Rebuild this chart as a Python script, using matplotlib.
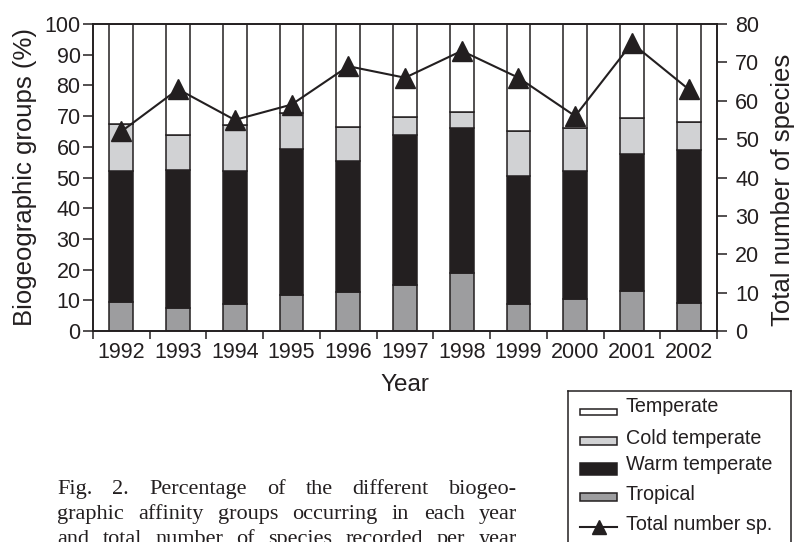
import matplotlib
matplotlib.use("Agg")
import matplotlib.pyplot as plt
from matplotlib.patches import Rectangle
from matplotlib.lines import Line2D
import numpy as np

years = ["1992", "1993", "1994", "1995", "1996", "1997", "1998", "1999", "2000", "2001", "2002"]
tropical = [9.6, 7.6, 8.8, 11.7, 12.8, 14.9, 19.0, 8.8, 10.4, 13.1, 9.2]
warm_temperate = [42.5, 44.9, 43.3, 47.7, 42.6, 48.9, 47.0, 41.7, 41.7, 44.4, 49.9]
cold_temperate = [15.2, 11.3, 14.9, 11.5, 11.2, 6.0, 5.4, 14.8, 13.9, 12.0, 9.1]
temperate = [32.7, 36.2, 33.0, 29.1, 33.4, 30.2, 28.6, 34.7, 34.0, 30.5, 31.8]
total_species = [52, 63, 55, 59, 69, 66, 73, 66, 56, 75, 63]

legend_labels = ["Temperate", "Cold temperate", "Warm temperate", "Tropical", "Total number sp."]
caption_lines = [
    "Fig. 2. Percentage of the different biogeo-",
    "graphic affinity groups occurring in each year",
    "and total number of species recorded per year",
]

DARK = "#231f20"
C_TROP = "#9d9d9f"
C_WARM = "#231f20"
C_COLD = "#d1d2d4"
C_TEMP = "#ffffff"

plt.rcParams["font.family"] = ["Liberation Sans", "DejaVu Sans"]
W, H = 801, 542
fig = plt.figure(figsize=(W / 100, H / 100), dpi=100)
fig.patch.set_facecolor("white")

ax = fig.add_axes([93 / W, 1 - 331 / H, (717 - 93) / W, (331 - 24) / H])
x = np.arange(len(years))
bw = 0.42
ekw = dict(edgecolor=DARK, linewidth=1.1, width=bw)
b0 = np.zeros(len(years))
ax.bar(x, tropical, bottom=b0, color=C_TROP, **ekw)
b1 = b0 + np.array(tropical)
ax.bar(x, warm_temperate, bottom=b1, color=C_WARM, **ekw)
b2 = b1 + np.array(warm_temperate)
ax.bar(x, cold_temperate, bottom=b2, color=C_COLD, **ekw)
b3 = b2 + np.array(cold_temperate)
ax.bar(x, temperate, bottom=b3, color=C_TEMP, **ekw)

ax.set_xlim(-0.5, len(years) - 0.5)
ax.set_ylim(0, 100)
ax.set_yticks(np.arange(0, 101, 10))
ax.set_xticks(x)
ax.set_xticklabels(years)
ax.set_xticks(np.arange(-0.5, len(years), 1.0), minor=True)
ax.tick_params(axis="x", which="major", length=0, pad=8, labelsize=15.5, colors=DARK)
ax.tick_params(axis="x", which="minor", length=6, width=1.1, direction="out", color=DARK)
ax.tick_params(axis="y", length=7, width=1.1, direction="out", pad=2, labelsize=15.5, colors=DARK)
for s in ax.spines.values():
    s.set_linewidth(1.2)
    s.set_color(DARK)
ax.set_ylabel("Biogeographic groups (%)", fontsize=18.5, color=DARK, labelpad=5)
ax.set_xlabel("Year", fontsize=17.5, color=DARK, labelpad=8)

ax2 = ax.twinx()
ax2.set_ylim(0, 80)
ax2.set_yticks(np.arange(0, 81, 10))
ax2.plot(x, total_species, color=DARK, linewidth=1.5, marker="^", markersize=14,
         markerfacecolor=DARK, markeredgecolor=DARK)
ax2.tick_params(axis="y", length=7, width=1.1, direction="out", pad=6, labelsize=15.5, colors=DARK)
for s in ax2.spines.values():
    s.set_linewidth(1.2)
    s.set_color(DARK)
ax2.set_ylabel("Total number of species", fontsize=18.5, color=DARK, labelpad=6)
ax2.yaxis.set_label_coords((771 - 93) / 624, 0.46)

# Legend box (manual, clipped by figure bottom like the reference)
lx0, lx1, ly0, ly1 = 568, 791, 391, 570
lax = fig.add_axes([lx0 / W, 1 - ly1 / H, (lx1 - lx0) / W, (ly1 - ly0) / H])
lax.set_xlim(lx0, lx1)
lax.set_ylim(ly1, ly0)
lax.set_xticks([])
lax.set_yticks([])
for s in lax.spines.values():
    s.set_linewidth(1.1)
    s.set_color(DARK)
rows = [412, 441, 469, 497, 527]
heights = [6, 8, 12, 8]
colors = [C_TEMP, C_COLD, C_WARM, C_TROP]
for yc, hh, cc in zip(rows[:4], heights, colors):
    lax.add_patch(Rectangle((580, yc - hh / 2), 37, hh, facecolor=cc, edgecolor=DARK, linewidth=1.1))
lax.add_line(Line2D([580, 617], [rows[4], rows[4]], color=DARK, linewidth=1.5))
lax.plot([598.5], [rows[4]], marker="^", markersize=10, color=DARK)
text_y = [407, 438, 465, 495, 525]
for ty, lab in zip(text_y, legend_labels):
    lax.text(626, ty, lab, fontsize=14.2, color=DARK, va="center", ha="left")

# Caption, justified lines
renderer = fig.canvas.get_renderer()
cx0, cx1 = 57, 517
baselines = [494, 519, 544]
for line, base in zip(caption_lines, baselines):
    words = line.split(" ")
    objs = []
    for w_ in words:
        t = fig.text(0, 1 - base / H, w_, fontsize=16, family="Liberation Serif",
                     color=DARK, va="baseline", ha="left")
        objs.append(t)
    widths = [t.get_window_extent(renderer).width for t in objs]
    gap = (cx1 - cx0 - sum(widths)) / (len(words) - 1)
    xp = cx0
    for t, wd in zip(objs, widths):
        t.set_x(xp / W)
        xp += wd + gap

fig.savefig("out.png", dpi=100, facecolor="white")
